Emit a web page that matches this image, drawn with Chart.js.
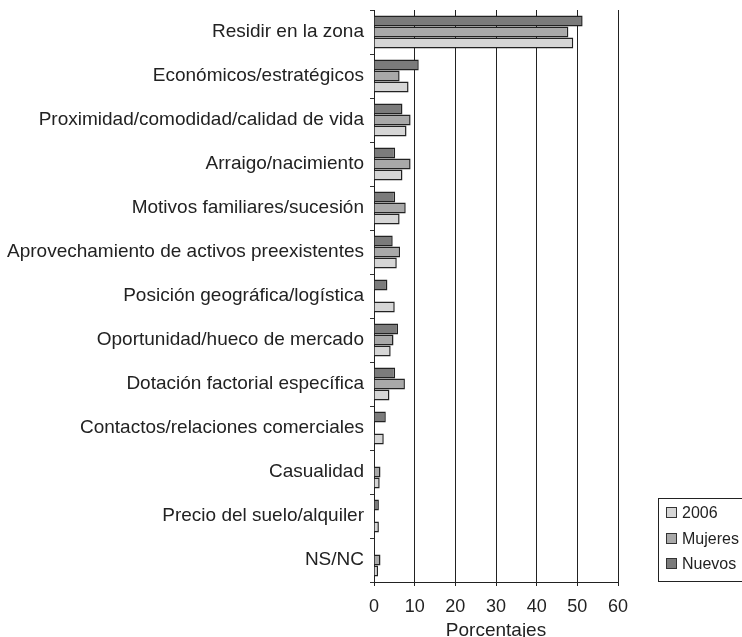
<!DOCTYPE html>
<html>
<head>
<meta charset="utf-8">
<script src="https://cdn.jsdelivr.net/npm/chart.js@4/dist/chart.umd.min.js"></script>
<style>
  html, body { margin: 0; padding: 0; background: #fff; }
  #wrap { width: 742px; height: 637px; }
</style>
</head>
<body>
<div id="wrap"><canvas id="myChart"></canvas></div>
<script>
// Motivos de localización (%), por colectivo
var categories = [
    'Residir en la zona',
    'Económicos/estratégicos',
    'Proximidad/comodidad/calidad de vida',
    'Arraigo/nacimiento',
    'Motivos familiares/sucesión',
    'Aprovechamiento de activos preexistentes',
    'Posición geográfica/logística',
    'Oportunidad/hueco de mercado',
    'Dotación factorial específica',
    'Contactos/relaciones comerciales',
    'Casualidad',
    'Precio del suelo/alquiler',
    'NS/NC'
];
var nuevos   = [51.3, 11.0, 7.0, 5.2, 5.2, 4.6, 3.3, 5.9, 5.2, 2.9, null, 1.2, null];
var mujeres  = [47.8, 6.3, 9.0, 9.0, 7.8, 6.4, null, 4.8, 7.6, null, 1.6, null, 1.6];
var anio2006 = [49.0, 8.5, 8.0, 7.0, 6.3, 5.6, 5.1, 4.1, 3.8, 2.4, 1.4, 1.2, 1.0];
var xTicks = [0, 10, 20, 30, 40, 50, 60];

var FONT = "'Liberation Sans', Arial, Helvetica, sans-serif";

// leyenda con recuadro, abajo a la derecha
var boxLegend = {
    id: 'boxLegend',
    afterDraw: function(chart) {
        var c = chart.ctx;
        var sets = chart.data.datasets.slice().reverse();
        c.save();
        c.strokeStyle = '#222';
        c.lineWidth = 1;
        c.strokeRect(658.5, 498.5, 90, 83);
        c.font = '16px ' + FONT;
        c.textBaseline = 'middle';
        c.textAlign = 'left';
        sets.forEach(function(ds, i) {
            var y = Math.round(513 + i * 25.5);
            c.fillStyle = ds.backgroundColor;
            c.fillRect(666.5, y - 5.5, 10, 10);
            c.strokeStyle = '#333';
            c.strokeRect(666.5, y - 5.5, 10, 10);
            c.fillStyle = '#222';
            c.fillText(ds.label, 682, y + 1);
        });
        c.restore();
    }
};

function serie(label, data, color) {
    return {
        label: label,
        data: data,
        backgroundColor: color,
        borderColor: '#222',
        borderWidth: 1.5,
        barPercentage: 1.0,
        categoryPercentage: 0.75
    };
}

var ctx = document.getElementById('myChart').getContext('2d');

var myBarChart = new Chart(ctx, {
    type: 'bar',
    data: {
        labels: categories,
        datasets: [
            serie('Nuevos', nuevos, '#7b7b7b'),
            serie('Mujeres', mujeres, '#a9a9a9'),
            serie('2006', anio2006, '#d6d6d6')
        ]
    },
    options: {
        indexAxis: 'y',
        responsive: true,
        maintainAspectRatio: false,
        animation: false,
        layout: { padding: { top: 0, right: 124, left: 0, bottom: 0 } },
        plugins: {
            legend: { display: false },
            tooltip: { enabled: false }
        },
        scales: {
            x: {
                min: 0,
                max: 60,
                afterBuildTicks: function(s) {
                    s.ticks = xTicks.map(function(v) { return { value: v }; });
                },
                afterFit: function(s) { s.height = 55; },
                grid: { color: '#222', lineWidth: 1, tickLength: 4 },
                border: { display: true, color: '#222', width: 1 },
                ticks: { color: '#222', font: { family: FONT, size: 18 }, padding: 10 },
                title: {
                    display: true,
                    text: 'Porcentajes',
                    color: '#222',
                    font: { family: FONT, size: 19 },
                    padding: { top: 0, bottom: -5 }
                }
            },
            y: {
                afterFit: function(s) {
                    s.width = 374;
                    s.paddingTop = 10;
                },
                grid: { drawOnChartArea: false, offset: true, tickLength: 4, color: '#333' },
                border: { display: true, color: '#222', width: 1 },
                ticks: { color: '#222', font: { family: FONT, size: 19 }, padding: 6, autoSkip: false }
            }
        }
    },
    plugins: [boxLegend]
});
</script>
</body>
</html>
